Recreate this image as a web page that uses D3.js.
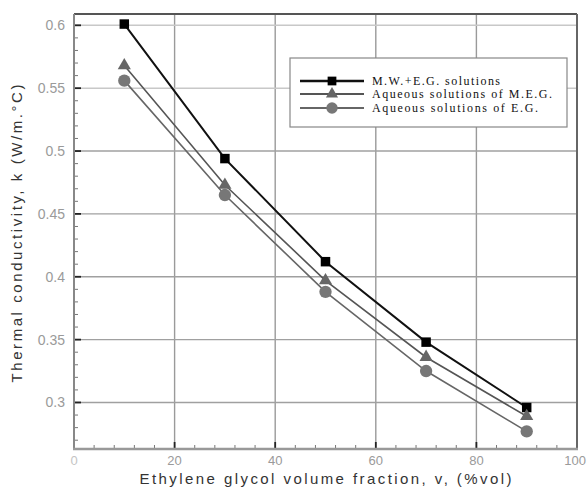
<!DOCTYPE html>
<html><head><meta charset="utf-8">
<script src="https://cdn.jsdelivr.net/npm/d3@7"></script>
<style>body{margin:0;background:#fff}svg{display:block}</style>
</head><body>
<svg id="c" width="587" height="491"></svg>
<script>
const fractions = [10, 30, 50, 70, 90];
const mwEG  = [0.601, 0.494, 0.412, 0.348, 0.296];
const aqMEG = [0.568, 0.473, 0.397, 0.336, 0.289];
const aqEG  = [0.556, 0.465, 0.388, 0.325, 0.277];
const xTicks = [0, 20, 40, 60, 80, 100];
const yTicks = [0.3, 0.35, 0.4, 0.45, 0.5, 0.55, 0.6];
const seriesNames = ["M.W.+E.G. solutions", "Aqueous solutions of M.E.G.", "Aqueous solutions of E.G."];

const svg = d3.select("#c");
const L = 74, R = 577, T = 14, B = 449;
const x = d3.scaleLinear().domain([0, 100]).range([L, R]);
const y = d3.scaleLinear().domain([0.263, 0.609]).range([B, T]);

// grid lines
const g = svg.append("g");
g.selectAll(".vg").data(xTicks.filter(d => d > 0 && d < 100)).enter().append("line")
  .attr("x1", d => x(d)).attr("x2", d => x(d)).attr("y1", T).attr("y2", B)
  .attr("stroke", "#9a9a9a").attr("stroke-width", 1.4);
g.selectAll(".hg").data(yTicks).enter().append("line")
  .attr("x1", L).attr("x2", R).attr("y1", d => y(d)).attr("y2", d => y(d))
  .attr("stroke", d => (d === 0.55 || d === 0.6) ? "#c8c8c8" : "#a0a0a0").attr("stroke-width", 1.4);

// minor ticks
const xMinor = d3.range(0, 100.1, 4).filter(d => xTicks.indexOf(d) < 0);
const yMinor = d3.range(0.27, 0.605, 0.01).map(d => +d.toFixed(2)).filter(d => yTicks.indexOf(d) < 0);
g.selectAll(".xm").data(xMinor).enter().append("line")
  .attr("x1", d => x(d)).attr("x2", d => x(d)).attr("y1", B).attr("y2", B - 4)
  .attr("stroke", "#777").attr("stroke-width", 1);
g.selectAll(".ym").data(yMinor).enter().append("line")
  .attr("x1", L).attr("x2", L + 4).attr("y1", d => y(d)).attr("y2", d => y(d))
  .attr("stroke", "#777").attr("stroke-width", 1);
// major ticks
g.selectAll(".xM").data(xTicks.filter(d => d > 0 && d < 100)).enter().append("line")
  .attr("x1", d => x(d)).attr("x2", d => x(d)).attr("y1", B).attr("y2", B - 7)
  .attr("stroke", "#222").attr("stroke-width", 1.8);
g.selectAll(".yM").data(yTicks).enter().append("line")
  .attr("x1", L).attr("x2", L + 7).attr("y1", d => y(d)).attr("y2", d => y(d))
  .attr("stroke", "#222").attr("stroke-width", 1.8);

// frame
svg.append("line").attr("x1", L).attr("x2", R).attr("y1", T).attr("y2", T).attr("stroke", "#555").attr("stroke-width", 2);
svg.append("line").attr("x1", R).attr("x2", R).attr("y1", T).attr("y2", B).attr("stroke", "#666").attr("stroke-width", 2);
svg.append("line").attr("x1", L).attr("x2", L).attr("y1", T).attr("y2", B + 1).attr("stroke", "#888").attr("stroke-width", 2);
svg.append("line").attr("x1", L - 1).attr("x2", R + 1).attr("y1", B).attr("y2", B).attr("stroke", "#999").attr("stroke-width", 2.5);

// tick labels
svg.selectAll(".xl").data(xTicks).enter().append("text")
  .attr("x", d => d === 100 ? 586 : x(d)).attr("y", B + 16)
  .attr("text-anchor", d => d === 100 ? "end" : "middle")
  .attr("font-family", "Liberation Sans, Arial, sans-serif").attr("font-size", 13)
  .attr("fill", d => d === 0 ? "#c4c4c4" : "#9a9a9a").text(d => d);
svg.selectAll(".yl").data(yTicks).enter().append("text")
  .attr("x", 65).attr("y", d => y(d) + 5).attr("text-anchor", "end")
  .attr("font-family", "Liberation Sans, Arial, sans-serif").attr("font-size", 14)
  .attr("fill", "#9a9a9a").text(d => d);

// axis titles
svg.append("text").attr("x", (L + R) / 2).attr("y", 484).attr("text-anchor", "middle")
  .attr("font-family", "Liberation Sans, Arial, sans-serif").attr("font-size", 15)
  .attr("fill", "#333").attr("textLength", 372).attr("lengthAdjust", "spacing")
  .text("Ethylene glycol volume fraction, v, (%vol)");
svg.append("text").attr("transform", `translate(22,${(T + B) / 2 + 2}) rotate(-90)`)
  .attr("text-anchor", "middle")
  .attr("font-family", "Liberation Sans, Arial, sans-serif").attr("font-size", 15)
  .attr("fill", "#333").attr("textLength", 298).attr("lengthAdjust", "spacing")
  .text("Thermal conductivity, k (W/m.°C)");

// series
const series = [
  {vals: mwEG,  line: "#111", lw: 2,   fill: "#000", shape: d3.symbolSquare,   size: 90},
  {vals: aqMEG, line: "#555", lw: 1.6, fill: "#666", shape: d3.symbolTriangle, size: 75},
  {vals: aqEG,  line: "#666", lw: 1.6, fill: "#777", shape: d3.symbolCircle,   size: 120}
];
const lineGen = d3.line().x(d => x(d[0])).y(d => y(d[1]));
series.forEach(s => {
  const pts = fractions.map((f, i) => [f, s.vals[i]]);
  svg.append("path").attr("d", lineGen(pts)).attr("fill", "none")
    .attr("stroke", s.line).attr("stroke-width", s.lw);
});
series.forEach(s => {
  const pts = fractions.map((f, i) => [f, s.vals[i]]);
  svg.selectAll(null).data(pts).enter().append("path")
    .attr("d", d3.symbol().type(s.shape).size(s.size))
    .attr("transform", d => `translate(${x(d[0])},${y(d[1])})`)
    .attr("fill", s.fill);
});

// legend
const lg = svg.append("g");
lg.append("rect").attr("x", 290).attr("y", 58).attr("width", 277).attr("height", 69)
  .attr("fill", "#fff").attr("stroke", "#888").attr("stroke-width", 1.2);
const legY = [81, 94, 108];
const legLen = [128, 180, 166];
series.forEach((s, i) => {
  lg.append("line").attr("x1", 300).attr("x2", 364).attr("y1", legY[i]).attr("y2", legY[i])
    .attr("stroke", s.line).attr("stroke-width", s.lw + 0.6);
  lg.append("path").attr("d", d3.symbol().type(s.shape).size(s.size * 0.85))
    .attr("transform", `translate(332,${legY[i]})`).attr("fill", s.fill);
  lg.append("text").attr("x", 372).attr("y", legY[i] + 4)
    .attr("font-family", "Liberation Serif, Times New Roman, serif").attr("font-size", 12)
    .attr("fill", "#111").attr("textLength", legLen[i]).attr("lengthAdjust", "spacing")
    .text(seriesNames[i]);
});
</script>
</body></html>
